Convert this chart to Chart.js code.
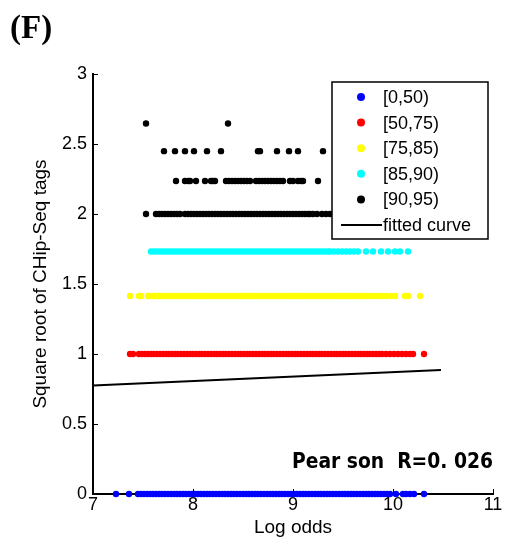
<!DOCTYPE html>
<html lang="en">
<head>
    <meta charset="UTF-8">
    <title>Log odds vs ChIP-Seq tags</title>
    <script src="https://cdn.jsdelivr.net/npm/chart.js"></script>
    <style>
        body { margin: 0; background: #fff; }
    </style>
</head>
<body>
    <canvas id="tagsChart" width="505" height="543"></canvas>

    <script>
        // log odds of each site, grouped by its sqrt(tag count) row
        const rowY = [0, 1, 1.414, 1.732, 2, 2.236, 2.449, 2.646];

        // [0,50)  -> 0 tags
        const blueX = [7.23, 7.36,
            7.45, 7.48, 7.51, 7.54, 7.57, 7.60, 7.63, 7.66, 7.69, 7.72, 7.75, 7.78, 7.81, 7.84, 7.87, 7.90,
            7.93, 7.96, 7.99, 8.02, 8.05, 8.08, 8.11, 8.14, 8.17, 8.20, 8.23, 8.26, 8.29, 8.32, 8.35, 8.38,
            8.41, 8.44, 8.47, 8.50, 8.53, 8.56, 8.59, 8.62, 8.65, 8.68, 8.71, 8.74, 8.77, 8.80, 8.83, 8.86,
            8.89, 8.92, 8.95, 8.98, 9.01, 9.04, 9.07, 9.10, 9.13, 9.16, 9.19, 9.22, 9.25, 9.28, 9.31, 9.34,
            9.37, 9.40, 9.43, 9.46, 9.49, 9.52, 9.55, 9.58, 9.61, 9.64, 9.67, 9.70, 9.73, 9.76, 9.79, 9.82,
            9.85, 9.88, 9.91, 9.94, 9.97,
            10.03, 10.10, 10.13, 10.17, 10.21, 10.31];

        // [50,75) -> 1 tag
        const redX = [7.37, 7.40,
            7.46, 7.49, 7.52, 7.55, 7.58, 7.61, 7.64, 7.67, 7.70, 7.73, 7.76, 7.79, 7.82, 7.85, 7.88, 7.91,
            7.94, 7.97, 8.00, 8.03, 8.06, 8.09, 8.12, 8.15, 8.18, 8.21, 8.24, 8.27, 8.30, 8.33, 8.36, 8.39,
            8.42, 8.45, 8.48, 8.51, 8.54, 8.57, 8.60, 8.63, 8.66, 8.69, 8.72, 8.75, 8.78, 8.81, 8.84, 8.87,
            8.90, 8.93, 8.96, 8.99, 9.02, 9.05, 9.08, 9.11, 9.14, 9.17, 9.20, 9.23, 9.26, 9.29, 9.32, 9.35,
            9.38, 9.41, 9.44, 9.47, 9.50, 9.53, 9.56, 9.59, 9.62, 9.65, 9.68, 9.71, 9.74, 9.77, 9.80, 9.83,
            9.86, 9.89,
            9.93, 9.97, 10.01, 10.05, 10.09, 10.13, 10.17, 10.20, 10.31];

        // [75,85) -> 2 tags
        const yellowX = [7.37, 7.46, 7.48, 7.55, 7.58, 7.61,
            7.63, 7.66, 7.69, 7.72, 7.75, 7.78, 7.81, 7.84, 7.87, 7.90, 7.93, 7.96, 7.99, 8.02, 8.05, 8.08,
            8.11, 8.14, 8.17, 8.20, 8.23, 8.26, 8.29, 8.32, 8.35, 8.38, 8.41, 8.44, 8.47, 8.50, 8.53, 8.56,
            8.59, 8.62, 8.65, 8.68, 8.71, 8.74, 8.77, 8.80, 8.83, 8.86, 8.89, 8.92, 8.95, 8.98, 9.01, 9.04,
            9.07, 9.10, 9.13, 9.16, 9.19, 9.22, 9.25, 9.28, 9.31, 9.34, 9.37, 9.40, 9.43, 9.46, 9.49, 9.52,
            9.55, 9.58, 9.61, 9.64, 9.67, 9.70, 9.74,
            9.78, 9.82, 9.86, 9.90, 9.94, 9.98, 10.02, 10.12, 10.15, 10.27];

        // [85,90) -> 3 tags
        const cyanX = [7.58, 7.61, 7.64, 7.67, 7.70, 7.73, 7.76, 7.79, 7.82, 7.85, 7.88, 7.91, 7.94, 7.97,
            8.00, 8.03, 8.06, 8.09, 8.12, 8.15, 8.18, 8.21, 8.24, 8.27, 8.30, 8.33, 8.36, 8.39, 8.42, 8.45,
            8.48, 8.51, 8.54, 8.57, 8.60, 8.63, 8.66, 8.69, 8.72, 8.75, 8.78, 8.81, 8.84, 8.87, 8.90, 8.93,
            8.96, 8.99, 9.02, 9.05, 9.08, 9.11, 9.14, 9.17, 9.20, 9.23, 9.26, 9.29, 9.32, 9.35, 9.37,
            9.41, 9.45, 9.49, 9.53, 9.57, 9.61, 9.65, 9.73, 9.80, 9.88, 9.95, 10.02, 10.07, 10.15];

        // [90,95) -> 4 to 7 tags
        const black4X = [7.53, 7.63, 7.66, 7.69, 7.72, 7.75, 7.78, 7.81, 7.84, 7.87,
            7.92, 7.95, 7.98, 8.01, 8.04, 8.07, 8.10, 8.13, 8.16, 8.19, 8.22, 8.25, 8.28, 8.31, 8.34, 8.37,
            8.40, 8.43, 8.46, 8.49, 8.52, 8.55, 8.58, 8.61, 8.64, 8.67, 8.70, 8.73, 8.76, 8.79, 8.82, 8.85,
            8.88, 8.91, 8.94, 8.97, 9.00, 9.03, 9.06, 9.09, 9.12, 9.15, 9.17,
            9.20, 9.24, 9.29, 9.33, 9.37];
        const black5X = [7.83, 7.92, 7.95, 7.97, 8.03, 8.12, 8.18, 8.20, 8.22,
            8.33, 8.36, 8.39, 8.42, 8.45, 8.48, 8.51, 8.54, 8.57,
            8.63, 8.66, 8.69, 8.72, 8.75, 8.78, 8.81, 8.84, 8.87, 8.90,
            8.97, 9.00, 9.05, 9.08, 9.10, 9.25];
        const black6X = [7.71, 7.82, 7.92, 8.01, 8.14, 8.28, 8.65, 8.67, 8.84, 8.96, 9.05, 9.30];
        const black7X = [7.53, 8.35];

        // least-squares fit
        const fitX = [7, 10.48];
        const fitY = [0.775, 0.886];

        const legendLabels = ['[0,50)', '[50,75)', '[75,85)', '[85,90)', '[90,95)', 'fitted curve'];
        const groupColors = ['#0000ff', '#ff0000', '#ffff00', '#00ffff', '#000000'];
        const pearsonText = 'Pear son  R=0. 026';

        function row(xs, y) {
            return xs.map(x => ({ x: x, y: y }));
        }

        const blackPoints = row(black4X, rowY[4]).concat(row(black5X, rowY[5]), row(black6X, rowY[6]), row(black7X, rowY[7]));
        const groups = [row(blueX, rowY[0]), row(redX, rowY[1]), row(yellowX, rowY[2]), row(cyanX, rowY[3]), blackPoints];

        const datasets = groups.map((pts, i) => ({
            label: legendLabels[i],
            data: pts,
            backgroundColor: groupColors[i],
            borderColor: groupColors[i],
            borderWidth: 0,
            pointRadius: 3.2,
            clip: false,
        }));
        datasets.push({
            label: legendLabels[5],
            data: fitX.map((x, i) => ({ x: x, y: fitY[i] })),
            showLine: true,
            borderColor: '#000',
            borderWidth: 2,
            pointRadius: 0,
            clip: false,
        });

        // small inward tick marks, like matlab axes
        const innerTicks = {
            id: 'innerTicks',
            afterDraw(chart) {
                const { ctx, chartArea: a, scales: { x, y } } = chart;
                ctx.save();
                ctx.strokeStyle = '#000';
                ctx.lineWidth = 1;
                y.ticks.forEach(t => {
                    const py = Math.round(y.getPixelForValue(t.value)) + 0.5;
                    ctx.beginPath();
                    ctx.moveTo(a.left, py);
                    ctx.lineTo(a.left + 5, py);
                    ctx.stroke();
                });
                x.ticks.forEach(t => {
                    const px = Math.round(x.getPixelForValue(t.value)) + 0.5;
                    ctx.beginPath();
                    ctx.moveTo(px, a.bottom);
                    ctx.lineTo(px, a.bottom - 5);
                    ctx.stroke();
                });
                ctx.restore();
            }
        };

        // boxed legend inside the plot + panel letter + correlation note
        const annotations = {
            id: 'annotations',
            afterDraw(chart) {
                const { ctx, chartArea: a } = chart;
                ctx.save();

                // legend box
                const bx = a.left + 239, by = a.top + 8, bw = 156, bh = 157;
                ctx.fillStyle = '#fff';
                ctx.fillRect(bx, by, bw, bh);
                ctx.strokeStyle = '#000';
                ctx.lineWidth = 1.5;
                ctx.strokeRect(bx, by, bw, bh);

                ctx.font = '18px "Liberation Sans", Arial, sans-serif';
                ctx.textBaseline = 'middle';
                ctx.textAlign = 'left';
                legendLabels.forEach((lbl, i) => {
                    const ly = by + 15 + i * 25.6;
                    if (i < groupColors.length) {
                        ctx.fillStyle = groupColors[i];
                        ctx.beginPath();
                        ctx.arc(bx + 29, ly, 4, 0, Math.PI * 2);
                        ctx.fill();
                    } else {
                        ctx.strokeStyle = '#000';
                        ctx.lineWidth = 2;
                        ctx.beginPath();
                        ctx.moveTo(bx + 9, ly);
                        ctx.lineTo(bx + 50, ly);
                        ctx.stroke();
                    }
                    ctx.fillStyle = '#000';
                    ctx.fillText(lbl, bx + 51, ly + 1);
                });

                // panel letter
                ctx.font = 'bold 33px "Liberation Serif", "Times New Roman", serif';
                ctx.textBaseline = 'alphabetic';
                ctx.fillText('(F)', 10, 38);

                // pearson correlation
                ctx.font = 'bold 21px "DejaVu Sans Condensed", "DejaVu Sans", sans-serif';
                const w = ctx.measureText(pearsonText).width;
                ctx.translate(292, 468);
                ctx.scale(201 / w, 1);
                ctx.fillText(pearsonText, 0, 0);

                ctx.restore();
            }
        };

        const tickFont = { family: '"Liberation Sans", Arial, sans-serif', size: 18 };

        new Chart(document.getElementById('tagsChart'), {
            type: 'scatter',
            data: { datasets: datasets },
            options: {
                responsive: false,
                animation: false,
                layout: { padding: { top: 74, right: 12, left: 0, bottom: 0 } },
                plugins: {
                    legend: { display: false },
                    tooltip: { enabled: false },
                },
                scales: {
                    x: {
                        type: 'linear',
                        min: 7,
                        max: 11,
                        grid: { display: false, drawTicks: false },
                        border: { display: true, color: '#000', width: 2 },
                        ticks: { stepSize: 1, color: '#000', font: tickFont, padding: 0 },
                        title: {
                            display: true,
                            text: 'Log odds',
                            color: '#000',
                            font: { family: tickFont.family, size: 19 },
                            padding: { top: 0, bottom: 4 },
                        },
                        afterFit(scale) { scale.height = 49; },
                    },
                    y: {
                        min: 0,
                        max: 3,
                        grid: { display: false, drawTicks: false },
                        border: { display: true, color: '#000', width: 2 },
                        ticks: {
                            stepSize: 0.5,
                            color: '#000',
                            font: tickFont,
                            padding: 6,
                            callback: v => String(v),
                        },
                        title: {
                            display: true,
                            text: 'Square root of CHip-Seq tags',
                            color: '#000',
                            font: { family: tickFont.family, size: 19 },
                            padding: { top: 29, bottom: 0 },
                        },
                        afterFit(scale) { scale.width = 93; },
                    },
                },
            },
            plugins: [innerTicks, annotations],
        });
    </script>
</body>
</html>
